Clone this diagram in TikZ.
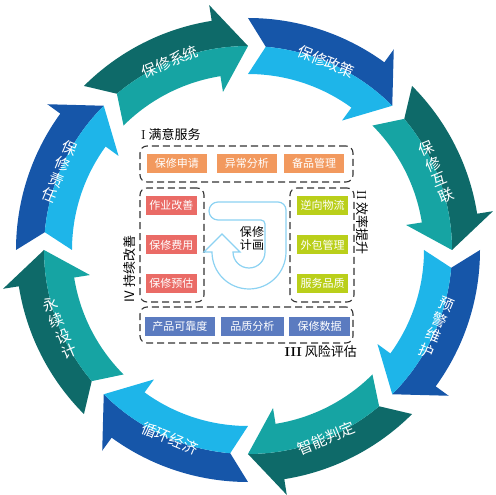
\documentclass[tikz,border=0pt]{standalone}
\usepackage{fontspec}
\newfontfamily\cjk{Noto Sans CJK SC}
\usetikzlibrary{positioning}
\definecolor{darkteal}{HTML}{0E6A69}
\definecolor{lightteal}{HTML}{16A4A3}
\definecolor{darkblue}{HTML}{1656A9}
\definecolor{lightblue}{HTML}{1EB5E9}
\definecolor{servorange}{HTML}{F2995E}
\definecolor{improvered}{HTML}{EA6B66}
\definecolor{effgreen}{HTML}{BACF1A}
\definecolor{riskblue}{HTML}{5B7BC0}
\definecolor{jline}{HTML}{8CD2F2}
\tikzset{ring label/.style={text=white,font=\cjk\fontsize{15}{17}\selectfont,
           align=center,inner sep=0pt},
         itembox/.style={minimum width=51pt,minimum height=19pt,inner sep=0pt,
           text=white,font=\cjk\fontsize{11}{13}\selectfont},
         groupbox/.style={draw=black!80,dash pattern=on 7pt off 4pt,
           line width=1.1pt,rounded corners=7pt,inner sep=0pt},
         grouptitle/.style={font=\cjk\fontsize{13}{15}\selectfont,inner sep=0pt},
         jarrow/.style={draw=jline,line width=1.2pt,fill=white}}
% one segment of the ring: tail angle, outer colour, inner colour
\newcommand{\ringarrow}[3]{%
  \fill[#2] (#1:232pt) arc[start angle=#1,end angle=#1-36,radius=232pt]
    -- ({#1-36}:248pt) -- ({#1-45}:204pt)
    arc[start angle=#1-45,end angle=#1-5,radius=204pt] -- cycle;
  \fill[#3] (#1:176pt) arc[start angle=#1,end angle=#1-36,radius=176pt]
    -- ({#1-36}:160pt) -- ({#1-45}:204pt)
    arc[start angle=#1-45,end angle=#1-5,radius=204pt] -- cycle;}

\begin{document}
\begin{tikzpicture}[x=1pt,y=1pt]
    \useasboundingbox (-248,-245) rectangle (247,250);

    \ringarrow{135}{darkteal}{lightteal} \ringarrow{90}{darkblue}{lightblue}
    \ringarrow{45}{darkteal}{lightteal} \ringarrow{0}{darkblue}{lightblue}
    \ringarrow{-45}{darkteal}{lightteal} \ringarrow{-90}{darkblue}{lightblue}
    \ringarrow{-135}{darkteal}{lightteal} \ringarrow{180}{darkblue}{lightblue}

    \node[ring label,rotate=22.5] (R1) at (112.5:204pt) {保修系统};
    \node[ring label,rotate=-22.5] (R2) at (67.5:204pt) {保修政策};
    \node[ring label,rotate=22.5] (R3) at (22.5:204pt) {保\\修\\互\\联};
    \node[ring label,rotate=-22.5] (R4) at (-22.5:204pt) {预\\警\\维\\护};
    \node[ring label,rotate=22.5] (R5) at (-67.5:204pt) {智能判定};
    \node[ring label,rotate=-22.5] (R6) at (-112.5:204pt) {循环经济};
    \node[ring label,rotate=22.5] (R7) at (-157.5:204pt) {永\\续\\设\\计};
    \node[ring label,rotate=-22.5] (R8) at (157.5:204pt) {保\\修\\责\\任};

    \node[groupbox,minimum width=213pt,minimum height=36pt] (G1) at (-1.5,86) {};
    \node[groupbox,minimum width=64pt,minimum height=114pt] (G2) at (74,5) {};
    \node[groupbox,minimum width=213pt,minimum height=36pt] (G3) at (-1.5,-75) {};
    \node[groupbox,minimum width=64pt,minimum height=114pt] (G4) at (-76,5) {};

    \node[grouptitle,anchor=west] (T1) at (-107,115) {{\rmfamily I}\ 满意服务};
    \node[grouptitle,rotate=-90] (T2) at (114,27.5) {{\rmfamily II}\ 效率提升};
    \node[grouptitle,anchor=east] (T3) at (109,-102) {{\rmfamily\bfseries III}\ 风险评估};
    \node[grouptitle,rotate=90] (T4) at (-118,-19) {IV\ 持续改善};

    \node[itembox,fill=servorange,minimum width=60pt] (S1) at (-71,86.5) {保修申请};
    \node[itembox,fill=servorange,minimum width=60pt] (S2) at (-1,86.5) {异常分析};
    \node[itembox,fill=servorange,minimum width=60pt] (S3) at (66,86.5) {备品管理};

    \node[itembox,fill=effgreen] (E1) at (74.5,44.5) {逆向物流};
    \node[itembox,fill=effgreen] (E2) at (74.5,5) {外包管理};
    \node[itembox,fill=effgreen] (E3) at (74.5,-33.5) {服务品质};

    \node[itembox,fill=riskblue,minimum width=70pt] (K1) at (-68,-76) {产品可靠度};
    \node[itembox,fill=riskblue,minimum width=63pt] (K2) at (4.5,-76) {品质分析};
    \node[itembox,fill=riskblue,minimum width=61pt] (K3) at (71.5,-76) {保修数据};

    \node[itembox,fill=improvered] (I1) at (-76.5,44.5) {作业改善};
    \node[itembox,fill=improvered] (I2) at (-76.5,5) {保修费用};
    \node[itembox,fill=improvered] (I3) at (-76.5,-33.5) {保修预估};

    % turning arrow in the middle
    \draw[jarrow] (-30,48) -- (30,48) arc[start angle=90,end angle=0,radius=8pt]
      -- (38,-2) arc[start angle=0,end angle=-180,radius=37pt]
      -- (-44,-2) -- (-26,16) -- (-8,-2) -- (-15,-2)
      arc[start angle=180,end angle=360,radius=16pt] -- (17,26)
      arc[start angle=0,end angle=90,radius=4pt] -- (-30,30)
      arc[start angle=270,end angle=90,radius=9pt] -- cycle;
    \node[font=\cjk\fontsize{12}{13}\selectfont,align=center,inner sep=0pt]
      (plan) at (4,12) {保修\\计画};

  \end{tikzpicture}
\end{document}
